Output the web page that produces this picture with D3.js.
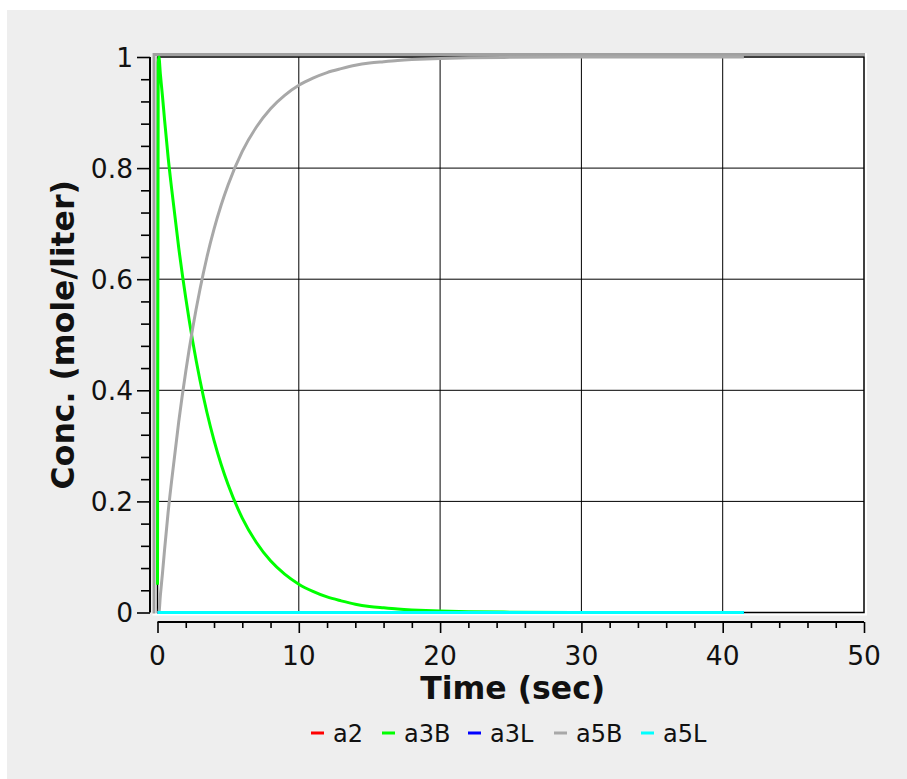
<!DOCTYPE html>
<html lang="en">
<head>
<meta charset="UTF-8">
<title>Concentration vs time</title>
<script src="https://d3js.org/d3.v7.min.js"></script>
<style>
    body { margin: 0; background: #fff; }
    svg { display: block; font-family: 'DejaVu Sans', sans-serif; }
    .tick-label { font-size: 26.5px; fill: #111; }
    .axis-title { font-size: 31.5px; font-weight: bold; fill: #111; }
    .legend text { font-size: 24px; fill: #111; }
</style>
</head>
<body>
<svg id="chart" width="907" height="779"></svg>
<script>
// time points (sec)
const times = [0, 0.05, 0.1, 0.2, 0.35, 0.5, 0.75, 1, 1.5, 2, 2.5, 3, 3.5, 4, 4.5, 5, 6, 7, 8, 9, 10,
               11, 12, 13, 14, 15, 16, 17, 18, 19, 20, 22, 25, 30, 35, 41.5];

const a2  = times.map(() => 0);
const a3B = [0.05, 0.99, 1.0, 0.97, 0.93, 0.887, 0.82, 0.763, 0.657, 0.566, 0.487, 0.419, 0.36, 0.31,
             0.267, 0.23, 0.17, 0.126, 0.093, 0.069, 0.051, 0.038, 0.028, 0.021, 0.015, 0.011,
             0.0085, 0.0063, 0.0047, 0.0035, 0.0026, 0.0014, 0.0006, 0.0001, 0, 0];
const a3L = times.map(() => 0);
const a5B = [0, 0, 0, 0.03, 0.07, 0.113, 0.18, 0.237, 0.343, 0.434, 0.513, 0.581, 0.64, 0.69,
             0.733, 0.77, 0.83, 0.874, 0.907, 0.931, 0.949, 0.962, 0.972, 0.979, 0.985, 0.989,
             0.9915, 0.9937, 0.9953, 0.9965, 0.9974, 0.9986, 0.9994, 0.9999, 1, 1];
const a5L = times.map(() => 0);

const seriesNames  = ["a2", "a3B", "a3L", "a5B", "a5L"];
const seriesValues = [a2, a3B, a3L, a5B, a5L];
const seriesColors = ["#ff0000", "#00ff00", "#0000ff", "#a8a8a8", "#00ffff"];

const xTicks = [0, 10, 20, 30, 40, 50];
const yTicks = [0, 0.2, 0.4, 0.6, 0.8, 1];

const svg = d3.select("#chart");

// grey panel
svg.append("rect").attr("x", 7).attr("y", 10).attr("width", 900).attr("height", 769).attr("fill", "#eeeeee");

const plot = { left: 157.5, right: 864, top: 57, bottom: 612.5 };

const x = d3.scaleLinear().domain([0, 50]).range([plot.left, plot.right]);
const y = d3.scaleLinear().domain([0, 1]).range([plot.bottom, plot.top]);

// bevel around the plot area
svg.append("rect").attr("x", plot.left - 5).attr("y", plot.top - 4)
    .attr("width", plot.right - plot.left + 8).attr("height", plot.bottom - plot.top + 7)
    .attr("fill", "#ffffff");
svg.append("path")
    .attr("d", `M${plot.left - 3.5},${plot.bottom + 1} V${plot.top - 2.5} H${plot.right + 1}`)
    .attr("fill", "none").attr("stroke", "#a0a0a0").attr("stroke-width", 3);

// grid
svg.append("g").selectAll("line").data(xTicks.slice(1, -1)).join("line")
    .attr("x1", d => x(d)).attr("x2", d => x(d)).attr("y1", plot.top).attr("y2", plot.bottom)
    .attr("stroke", "#000").attr("stroke-width", 1);
svg.append("g").selectAll("line").data(yTicks.slice(1, -1)).join("line")
    .attr("y1", d => y(d)).attr("y2", d => y(d)).attr("x1", plot.left).attr("x2", plot.right)
    .attr("stroke", "#000").attr("stroke-width", 1);

svg.append("rect").attr("x", plot.left).attr("y", plot.top)
    .attr("width", plot.right - plot.left).attr("height", plot.bottom - plot.top)
    .attr("fill", "none").attr("stroke", "#000").attr("stroke-width", 1.5);

// lines
const line = d3.line().x((d, i) => x(times[i])).y(d => y(d)).curve(d3.curveMonotoneX);
seriesValues.forEach((vals, k) => {
    svg.append("path").datum(vals)
        .attr("d", line)
        .attr("fill", "none")
        .attr("stroke", seriesColors[k])
        .attr("stroke-width", 3)
        .attr("stroke-linejoin", "round");
});

// y axis (offset to the left)
const yAxisX = 150;
const yAxis = d3.axisLeft(y).tickValues(d3.range(0, 1.0001, 0.04)).tickSize(8).tickFormat("");
const gy = svg.append("g").attr("transform", `translate(${yAxisX},0)`).call(yAxis);
gy.select(".domain").attr("d", `M0,${plot.top}V${plot.bottom}`).attr("stroke", "#000").attr("stroke-width", 2);
gy.selectAll(".tick line").attr("stroke", "#000").attr("stroke-width", 1.6)
    .attr("x2", d => Math.abs(d * 5 - Math.round(d * 5)) < 1e-6 ? -13 : -9);
svg.append("g").selectAll("text").data(yTicks).join("text")
    .attr("class", "tick-label")
    .attr("x", 133).attr("y", d => y(d)).attr("dy", "0.36em")
    .attr("text-anchor", "end")
    .text(d => d3.format("~g")(d));

// x axis (offset below)
const xAxisY = 622;
const xAxis = d3.axisBottom(x).tickValues(d3.range(0, 50.001, 2)).tickSize(6).tickFormat("");
const gx = svg.append("g").attr("transform", `translate(0,${xAxisY})`).call(xAxis);
gx.select(".domain").attr("d", `M${plot.left},0H${plot.right}`).attr("stroke", "#000").attr("stroke-width", 2);
gx.selectAll(".tick line").attr("stroke", "#000").attr("stroke-width", 1.6)
    .attr("y2", d => d % 10 === 0 ? 11 : 6);
svg.append("g").selectAll("text").data(xTicks).join("text")
    .attr("class", "tick-label")
    .attr("x", d => x(d)).attr("y", 665)
    .attr("text-anchor", "middle")
    .text(d => d);

// titles
svg.append("text").attr("class", "axis-title")
    .attr("x", x(25) + 2).attr("y", 699).attr("text-anchor", "middle")
    .text("Time (sec)");
svg.append("text").attr("class", "axis-title")
    .attr("transform", `translate(74,${(plot.top + plot.bottom) / 2}) rotate(-90)`)
    .attr("text-anchor", "middle")
    .text("Conc. (mole/liter)");

// legend
const legendX = [311, 382, 468, 554, 641];
const legend = svg.append("g").attr("class", "legend");
seriesNames.forEach((name, k) => {
    legend.append("line")
        .attr("x1", legendX[k]).attr("x2", legendX[k] + 13)
        .attr("y1", 733).attr("y2", 733)
        .attr("stroke", seriesColors[k]).attr("stroke-width", 3);
    legend.append("text")
        .attr("x", legendX[k] + 22).attr("y", 742)
        .text(name);
});
</script>
</body>
</html>
